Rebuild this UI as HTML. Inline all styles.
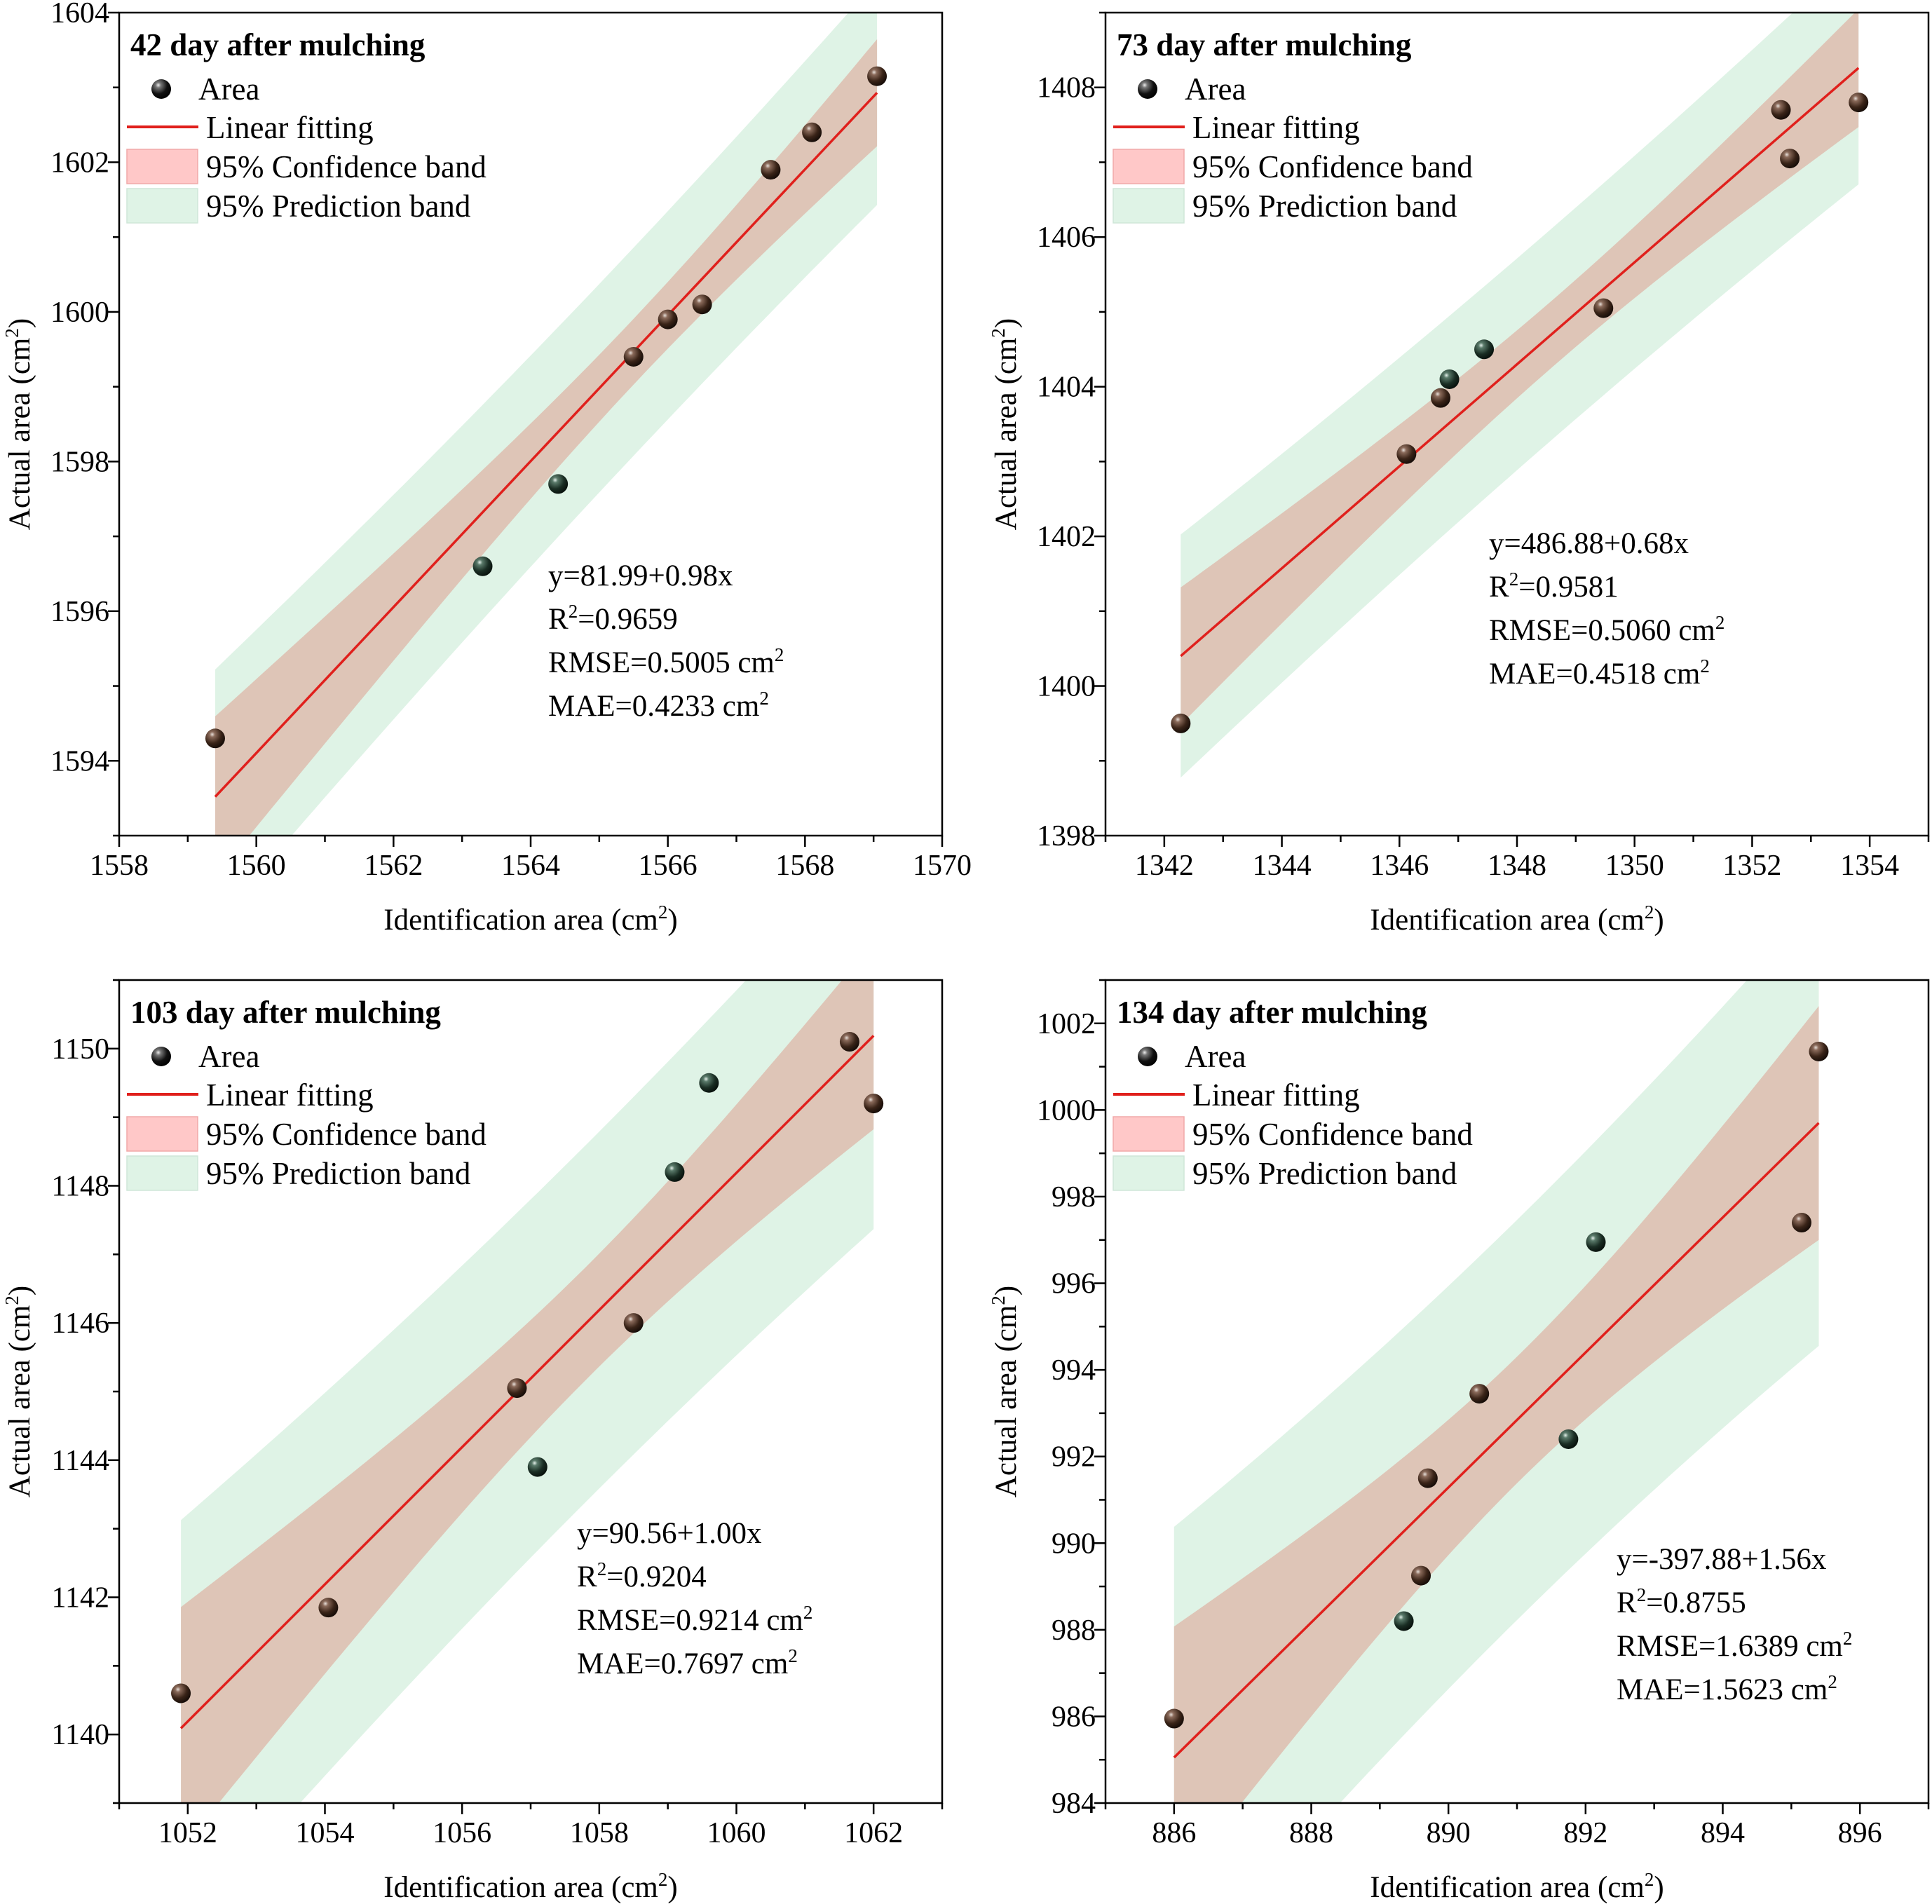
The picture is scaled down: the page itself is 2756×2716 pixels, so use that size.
<!DOCTYPE html>
<html><head><meta charset="utf-8"><style>
html,body{margin:0;padding:0;background:#fff}
svg{display:block;font-family:"Liberation Serif",serif}
</style></head><body>
<svg id="fig" width="2756" height="2716" viewBox="0 0 2756 2716" xmlns="http://www.w3.org/2000/svg">
<defs>
<radialGradient id="gBrown" cx="0.35" cy="0.3" r="0.75"><stop offset="0" stop-color="#e8e0da"/><stop offset="0.18" stop-color="#8a6a5a"/><stop offset="0.6" stop-color="#3a2418"/><stop offset="1" stop-color="#120a06"/></radialGradient>
<radialGradient id="gGreen" cx="0.35" cy="0.3" r="0.75"><stop offset="0" stop-color="#e4f0ea"/><stop offset="0.18" stop-color="#5a7a6a"/><stop offset="0.6" stop-color="#1a2e24"/><stop offset="1" stop-color="#060e0a"/></radialGradient>
<radialGradient id="gBlack" cx="0.35" cy="0.3" r="0.75"><stop offset="0" stop-color="#eeeeee"/><stop offset="0.18" stop-color="#777"/><stop offset="0.6" stop-color="#111"/><stop offset="1" stop-color="#000"/></radialGradient>
</defs>
</svg>
<script>
// ---- data ----
const p1X=[1559.4,1563.3,1564.4,1565.5,1566.0,1566.5,1567.5,1568.1,1569.05];
const p1Y=[1594.3,1596.6,1597.7,1599.4,1599.9,1600.1,1601.9,1602.4,1603.15];
const p2X=[1342.28,1346.12,1346.7,1346.85,1347.44,1349.47,1352.49,1352.64,1353.81];
const p2Y=[1399.5,1403.1,1403.85,1404.1,1404.5,1405.05,1407.7,1407.05,1407.8];
const p3X=[1051.9,1054.05,1056.8,1057.1,1058.5,1059.1,1059.6,1061.65,1062.0];
const p3Y=[1140.6,1141.85,1145.05,1143.9,1146.0,1148.2,1149.5,1150.1,1149.2];
const p4X=[886.0,889.35,889.6,889.7,890.45,891.75,892.15,895.15,895.4];
const p4Y=[985.95,988.2,989.25,991.5,993.45,992.4,996.95,997.4,1001.35];
const p1XTicks=[1558,1560,1562,1564,1566,1568,1570];
const p1YTicks=[1594,1596,1598,1600,1602,1604];
const p2XTicks=[1342,1344,1346,1348,1350,1352,1354];
const p2YTicks=[1398,1400,1402,1404,1406,1408];
const p3XTicks=[1052,1054,1056,1058,1060,1062];
const p3YTicks=[1140,1142,1144,1146,1148,1150];
const p4XTicks=[886,888,890,892,894,896];
const p4YTicks=[984,986,988,990,992,994,996,998,1000,1002];
const titles=["42 day after mulching","73 day after mulching","103 day after mulching","134 day after mulching"];
const eqs=["y=81.99+0.98x","y=486.88+0.68x","y=90.56+1.00x","y=-397.88+1.56x"];
const r2s=["0.9659","0.9581","0.9204","0.8755"];
const rmses=["0.5005","0.5060","0.9214","1.6389"];
const maes=["0.4233","0.4518","0.7697","1.5623"];

const NS="http://www.w3.org/2000/svg";
const svg=document.getElementById('fig');
function mk(tag,attrs,parent){const e=document.createElementNS(NS,tag);for(const k in attrs)e.setAttribute(k,attrs[k]);(parent||svg).appendChild(e);return e;}

const panels=[
 {L:170,T:18,xs:p1X,ys:p1Y,xd:[1558,1570],yd:[1593,1604],xt:p1XTicks,yt:p1YTicks,stat:[782,835],key:'p1'},
 {L:1577,T:18,xs:p2X,ys:p2Y,xd:[1341,1355],yd:[1398,1409],xt:p2XTicks,yt:p2YTicks,stat:[2124,789],key:'p2'},
 {L:170,T:1398,xs:p3X,ys:p3Y,xd:[1051,1063],yd:[1139,1151],xt:p3XTicks,yt:p3YTicks,stat:[823,2201],key:'p3'},
 {L:1577,T:1398,xs:p4X,ys:p4Y,xd:[885,897],yd:[984,1003],xt:p4XTicks,yt:p4YTicks,stat:[2306,2238],key:'p4'}
];
const W=1174,H=1174;

panels.forEach((p,pi)=>{
 const g=mk('g',{});
 
 
 const sx=v=>p.L+(v-p.xd[0])/(p.xd[1]-p.xd[0])*W;
 const sy=v=>p.T+H-(v-p.yd[0])/(p.yd[1]-p.yd[0])*H;
 const cid='clip'+pi;
 const cp=mk('clipPath',{id:cid},g);mk('rect',{x:p.L,y:p.T,width:W,height:H},cp);
 const n=p.xs.length;const mx=p.xs.reduce((a,b)=>a+b)/n,my=p.ys.reduce((a,b)=>a+b)/n;
 let sxx=0,sxy=0;for(let i=0;i<n;i++){sxx+=(p.xs[i]-mx)**2;sxy+=(p.xs[i]-mx)*(p.ys[i]-my);}
 const b=sxy/sxx,a=my-b*mx;let sse=0;for(let i=0;i<n;i++)sse+=(p.ys[i]-a-b*p.xs[i])**2;
 const s=Math.sqrt(sse/(n-2)),t=2.365;
 const x0=Math.min(...p.xs),x1=Math.max(...p.xs);
 const steps=60;const up=[],lo=[],cu=[],cl=[];
 for(let k=0;k<=steps;k++){const x=x0+(x1-x0)*k/steps;const yh=a+b*x;const q=1/n+(x-mx)**2/sxx;
  const pw=t*s*Math.sqrt(1+q),cw=t*s*Math.sqrt(q);
  up.push([sx(x),sy(yh+pw)]);lo.push([sx(x),sy(yh-pw)]);cu.push([sx(x),sy(yh+cw)]);cl.push([sx(x),sy(yh-cw)]);}
 const poly=(u,l)=>u.concat(l.slice().reverse()).map(q=>q[0].toFixed(1)+','+q[1].toFixed(1)).join(' ');
 const pb=mk('polygon',{points:poly(up,lo),fill:'#dff3e6','clip-path':`url(#${cid})`},g);
 
 
 const cb=mk('polygon',{points:poly(cu,cl),fill:'#dec5b7','clip-path':`url(#${cid})`},g);
 
 
 const fl=mk('line',{x1:sx(x0),y1:sy(a+b*x0),x2:sx(x1),y2:sy(a+b*x1),stroke:'#e0201c','stroke-width':3.5,'clip-path':`url(#${cid})`},g);
 
 
 for(let i=0;i<n;i++){const x=p.xs[i],y=p.ys[i];const q=1/n+(x-mx)**2/sxx;const cw=t*s*Math.sqrt(q);
  const inside=Math.abs(y-(a+b*x))<=cw;
  const c=mk('circle',{cx:sx(x),cy:sy(y),r:14,fill:inside?'url(#gBrown)':'url(#gGreen)'},g);
  
  }
 const fr=mk('rect',{x:p.L,y:p.T,width:W,height:H,fill:'none',stroke:'#000','stroke-width':2.5},g);
 
 
 const xstep=p.xt[1]-p.xt[0];
 for(let v=p.xt[0]-xstep;v<=p.xt[p.xt.length-1]+xstep+1e-9;v+=xstep/2){
  const X=sx(v);if(X<p.L-1||X>p.L+W+1)continue;
  const major=p.xt.some(m=>Math.abs(m-v)<1e-6);
  mk('line',{x1:X,y1:p.T+H,x2:X,y2:p.T+H+(major?16:9),stroke:'#000','stroke-width':2.5},g);}
 p.xt.forEach(v=>{const tx=mk('text',{x:sx(v),y:p.T+H+56,'text-anchor':'middle','font-size':42},g);tx.textContent=v;
  
  });
 const ystep=p.yt[1]-p.yt[0];
 for(let v=p.yt[0]-ystep;v<=p.yt[p.yt.length-1]+ystep+1e-9;v+=ystep/2){
  const Y=sy(v);if(Y<p.T-1||Y>p.T+H+1)continue;
  const major=p.yt.some(m=>Math.abs(m-v)<1e-6);
  mk('line',{x1:p.L,y1:Y,x2:p.L-(major?16:9),y2:Y,stroke:'#000','stroke-width':2.5},g);}
 p.yt.forEach(v=>{const ty=mk('text',{x:p.L-14,y:sy(v)+14,'text-anchor':'end','font-size':42},g);ty.textContent=v;
  
  });
 const xt=mk('text',{x:p.L+W/2,y:p.T+H+134,'text-anchor':'middle','font-size':43},g);
 xt.innerHTML='Identification area (cm<tspan dy="-16" font-size="27">2</tspan><tspan dy="16">)</tspan>';
 
 
 const yx=p.L-128,yy=p.T+H/2;
 const yt=mk('text',{x:yx,y:yy,'text-anchor':'middle','font-size':43,transform:`rotate(-90 ${yx} ${yy})`},g);
 yt.innerHTML='Actual area (cm<tspan dy="-16" font-size="27">2</tspan><tspan dy="16">)</tspan>';
 
 
 const o=p.L,T=p.T;
 const ti=mk('text',{x:o+16,y:T+61,'font-size':45,'font-weight':'bold'},g);ti.textContent=titles[pi];
 
 
 const lg=mk('g',{},g);
 
 
 mk('circle',{cx:o+60,cy:T+109,r:14,fill:'url(#gBlack)'},lg);
 const t1=mk('text',{x:o+113,y:T+124,'font-size':45},lg);t1.textContent='Area';
 mk('line',{x1:o+11,y1:T+163,x2:o+113,y2:T+163,stroke:'#e0201c','stroke-width':4},lg);
 const t2=mk('text',{x:o+124,y:T+179,'font-size':45},lg);t2.textContent='Linear fitting';
 mk('rect',{x:o+11,y:T+195,width:101,height:49,fill:'#ffc8c8',stroke:'#f0a8a8','stroke-width':1.5},lg);
 const t3=mk('text',{x:o+124,y:T+235,'font-size':45},lg);t3.textContent='95% Confidence band';
 mk('rect',{x:o+11,y:T+251,width:101,height:49,fill:'#dff3e6',stroke:'#cfe6d8','stroke-width':1.5},lg);
 const t4=mk('text',{x:o+124,y:T+291,'font-size':45},lg);t4.textContent='95% Prediction band';
 const st=mk('g',{'font-size':43},g);
 
 
 const [SX,SY]=p.stat;
 const e1=mk('text',{x:SX,y:SY},st);e1.textContent=eqs[pi];
 const e2=mk('text',{x:SX,y:SY+62},st);e2.innerHTML='R<tspan dy="-16" font-size="27">2</tspan><tspan dy="16">='+r2s[pi]+'</tspan>';
 const e3=mk('text',{x:SX,y:SY+124},st);e3.innerHTML='RMSE='+rmses[pi]+' cm<tspan dy="-16" font-size="27">2</tspan>';
 const e4=mk('text',{x:SX,y:SY+186},st);e4.innerHTML='MAE='+maes[pi]+' cm<tspan dy="-16" font-size="27">2</tspan>';
});
</script>
</body></html>
